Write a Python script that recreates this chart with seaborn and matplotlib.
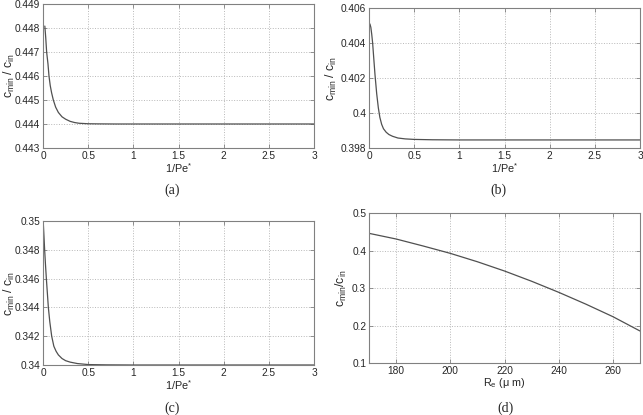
import numpy as np
import pandas as pd
import seaborn as sns
import matplotlib
matplotlib.use('Agg')
import matplotlib.pyplot as plt

# values
pe_a = [0.02, 0.03, 0.04, 0.055, 0.066, 0.08, 0.095, 0.114, 0.14, 0.17, 0.21, 0.25, 0.30, 0.35, 0.40, 0.5, 0.6, 0.8, 1.0, 3.0]
c_a = [0.44808, 0.4476, 0.4470, 0.4465, 0.4460, 0.4456, 0.4453, 0.4450, 0.44470, 0.44448, 0.44430, 0.44420, 0.44411, 0.44406, 0.44403, 0.44401, 0.444005, 0.444, 0.444, 0.444]

pe_b = [0.01, 0.02, 0.03, 0.04, 0.05, 0.066, 0.085, 0.103, 0.12, 0.14, 0.16, 0.19, 0.22, 0.26, 0.32, 0.40, 0.5, 0.7, 1.0, 3.0]
c_b = [0.40509, 0.4049, 0.4045, 0.4040, 0.4033, 0.4022, 0.4011, 0.4003, 0.39975, 0.39935, 0.39910, 0.39890, 0.39877, 0.39867, 0.39857, 0.39852, 0.39849, 0.39847, 0.39846, 0.39846]

pe_c = [0.004, 0.01, 0.018, 0.027, 0.037, 0.048, 0.059, 0.075, 0.096, 0.12, 0.145, 0.17, 0.21, 0.25, 0.30, 0.38, 0.5, 0.7, 1.0, 3.0]
c_c = [0.34972, 0.3490, 0.3480, 0.3470, 0.3460, 0.3450, 0.3440, 0.3430, 0.3420, 0.3413, 0.34095, 0.3407, 0.34045, 0.3403, 0.34020, 0.3401, 0.34003, 0.34001, 0.340, 0.340]

re_d = [170, 180, 190, 200, 210, 220, 230, 240, 250, 260, 270]
c_d = [0.4458, 0.4307, 0.412, 0.3924, 0.370, 0.3453, 0.318, 0.2885, 0.257, 0.2235, 0.1853]

pe_ticks = [0, 0.5, 1, 1.5, 2, 2.5, 3]
pe_labels = ['0', '0.5', '1', '1.5', '2', '2.5', '3']

ticks_a = [0.443, 0.444, 0.445, 0.446, 0.447, 0.448, 0.449]
labels_a = ['0.443', '0.444', '0.445', '0.446', '0.447', '0.448', '0.449']
ticks_b = [0.398, 0.400, 0.402, 0.404, 0.406]
labels_b = ['0.398', '0.4', '0.402', '0.404', '0.406']
ticks_c = [0.340, 0.342, 0.344, 0.346, 0.348, 0.350]
labels_c = ['0.34', '0.342', '0.344', '0.346', '0.348', '0.35']
ticks_dx = [180, 200, 220, 240, 260]
ticks_dy = [0.1, 0.2, 0.3, 0.4, 0.5]
labels_dy = ['0.1', '0.2', '0.3', '0.4', '0.5']

sns.set_theme(style='ticks')
plt.rcParams['font.family'] = ['Liberation Sans', 'DejaVu Sans']
plt.rcParams['mathtext.fontset'] = 'custom'
plt.rcParams['mathtext.rm'] = 'Liberation Sans'
plt.rcParams['mathtext.it'] = 'Liberation Sans'

fig = plt.figure(figsize=(6.43, 4.15), dpi=100)

ax_a = fig.add_axes([0.0669, 0.6434, 0.4215, 0.347])
ax_b = fig.add_axes([0.5739, 0.6434, 0.4215, 0.3373])
ax_c = fig.add_axes([0.0669, 0.1205, 0.4215, 0.347])
ax_d = fig.add_axes([0.5739, 0.1253, 0.4215, 0.3614])

line_col = '#505050'
ylab_pe = r'$\mathregular{c_{min}\ /\ c_{in}}$'
xlab_pe = r'$\mathregular{1/Pe^{*}}$'


def style(ax):
    ax.grid(True, linestyle=':', color='#b8b8b8', linewidth=0.7)
    for s in ax.spines.values():
        s.set_color('#808080')
        s.set_linewidth(0.8)
    ax.tick_params(direction='in', length=3, width=0.6, color='#808080',
                   labelsize=7.3, pad=2, top=True, right=True)


panels = [(ax_a, pe_a, c_a, ticks_a, labels_a, -0.124),
          (ax_b, pe_b, c_b, ticks_b, labels_b, -0.14),
          (ax_c, pe_c, c_c, ticks_c, labels_c, -0.124)]

for ax, xs, ys, yt, yl, lx in panels:
    df = pd.DataFrame({'x': xs, 'y': ys})
    sns.lineplot(data=df, x='x', y='y', ax=ax, color=line_col, linewidth=0.9)
    ax.set_xlim(0, 3)
    ax.set_ylim(yt[0], yt[-1])
    ax.set_xticks(pe_ticks)
    ax.set_xticklabels(pe_labels)
    ax.set_yticks(yt)
    ax.set_yticklabels(yl)
    ax.set_xlabel(xlab_pe, fontsize=7.8, labelpad=0)
    ax.set_ylabel(ylab_pe, fontsize=8.8, va='center')
    ax.yaxis.set_label_coords(lx, 0.5)
    style(ax)

df_d = pd.DataFrame({'Re': re_d, 'c': c_d})
sns.lineplot(data=df_d, x='Re', y='c', ax=ax_d, color=line_col, linewidth=0.9)
ax_d.set_xlim(170, 270)
ax_d.set_ylim(0.1, 0.5)
ax_d.set_xticks(ticks_dx)
ax_d.set_yticks(ticks_dy)
ax_d.set_yticklabels(labels_dy)
ax_d.set_xlabel(r'$\mathregular{R_e\ (\mu\ m)}$', fontsize=7.8, labelpad=0)
ax_d.set_ylabel(r'$\mathregular{c_{min}/c_{in}}$', fontsize=8.8, va='center')
ax_d.yaxis.set_label_coords(-0.1, 0.5)
style(ax_d)

cap_kw = dict(family=['Liberation Serif', 'DejaVu Serif'], fontsize=10, ha='center', va='center')
fig.text(172 / 643, 1 - 190 / 415, '(a)', **cap_kw)
fig.text(498 / 643, 1 - 190 / 415, '(b)', **cap_kw)
fig.text(172 / 643, 1 - 408 / 415, '(c)', **cap_kw)
fig.text(506 / 643, 1 - 408 / 415, '(d)', **cap_kw)

fig.savefig('out.png', dpi=100)
